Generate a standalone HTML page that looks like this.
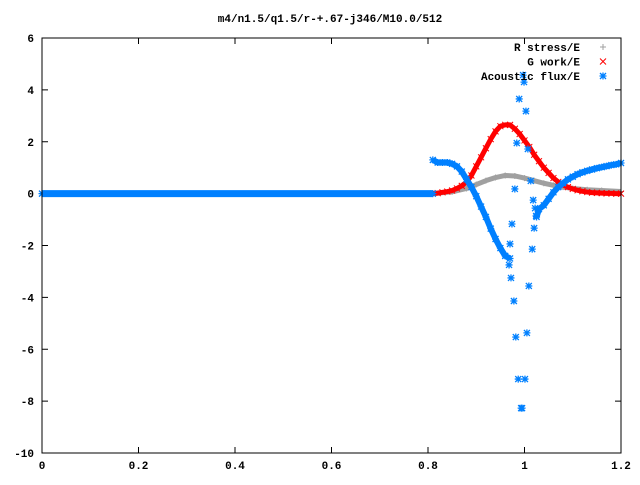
<!DOCTYPE html>
<html><head><meta charset="utf-8"><style>
body{margin:0;background:#fff;width:640px;height:480px;overflow:hidden}
text{font-family:"Liberation Mono",monospace;font-size:11px;font-weight:bold;fill:#000}
</style></head><body>
<svg id="chart" width="640" height="480" viewBox="0 0 640 480" xmlns="http://www.w3.org/2000/svg">
<text x="330" y="22" text-anchor="middle">m4/n1.5/q1.5/r-+.67-j346/M10.0/512</text>
<g id="axes"></g>
<g id="series"></g>
<rect x="42" y="38" width="579" height="415" fill="none" stroke="#000" stroke-width="1"/>
<g id="legend"></g>
</svg>
<script>
const xTicks=[0,0.2,0.4,0.6,0.8,1,1.2];
const xTickLabels=["0","0.2","0.4","0.6","0.8","1","1.2"];
const yTicks=[-10,-8,-6,-4,-2,0,2,4,6];
const yTickLabels=["-10","-8","-6","-4","-2","0","2","4","6"];
const rX=[0.81,0.85,0.88,0.9,0.92,0.94,0.96,0.98,1.0,1.02,1.04,1.06,1.08,1.1,1.13,1.16,1.2];
const rY=[0,0.07,0.2,0.35,0.5,0.62,0.7,0.68,0.6,0.5,0.4,0.32,0.25,0.2,0.15,0.12,0.08];
const gX=[0.81,0.82,0.83,0.84,0.85,0.86,0.87,0.88,0.89,0.9,0.91,0.92,0.93,0.94,0.95,0.96,0.97,0.98,0.99,1.0,1.01,1.02,1.03,1.04,1.05,1.06,1.07,1.08,1.09,1.1,1.11,1.12,1.13,1.14,1.15,1.16,1.17,1.18,1.19,1.2];
const gY=[0,0.02,0.05,0.08,0.12,0.2,0.3,0.45,0.7,1.05,1.4,1.75,2.1,2.4,2.6,2.65,2.65,2.5,2.3,2.05,1.8,1.5,1.25,1.0,0.8,0.6,0.45,0.33,0.25,0.18,0.13,0.09,0.06,0.04,0.03,0.02,0.01,0.01,0,0];
const aZeroX=[0,0.81];
const aZeroY=[0,0];
const aX1=[0.81,0.82,0.83,0.84,0.85,0.86,0.87,0.88,0.89,0.9,0.91,0.92,0.93,0.94,0.95,0.96,0.97];
const aY1=[1.3,1.2,1.2,1.2,1.15,1.05,0.85,0.55,0.25,-0.1,-0.5,-0.9,-1.35,-1.75,-2.1,-2.4,-2.5];
const aX2=[1.025,1.03,1.04,1.05,1.06,1.07,1.08,1.09,1.1,1.11,1.12,1.13,1.14,1.15,1.16,1.17,1.18,1.19,1.2];
const aY2=[-0.9,-0.6,-0.45,-0.2,0.05,0.25,0.4,0.55,0.65,0.75,0.82,0.88,0.93,0.98,1.02,1.06,1.1,1.13,1.18];
const aScX=[0.997,0.999,0.989,1.003,0.984,1.007,1.013,0.980,1.018,1.022,1.024,0.974,1.020,0.970,1.016,0.968,0.972,1.009,0.978,0.982,1.005,0.987,1.001,0.993,0.995];
const aScY=[4.57,4.3,3.65,3.18,1.95,1.72,0.49,0.18,-0.25,-0.56,-0.86,-1.17,-1.33,-1.94,-2.14,-2.75,-3.25,-3.56,-4.14,-5.53,-5.37,-7.15,-7.15,-8.27,-8.27];

const NS="http://www.w3.org/2000/svg";
const X0=42,X1=621,Y0=453,Y1=38;
function sx(v){return X0+(v-0)/(1.2-0)*(X1-X0);}
function sy(v){return Y0-(v+10)/16*(Y0-Y1);}
function mk(tag,attrs,parent){const e=document.createElementNS(NS,tag);for(const k in attrs)e.setAttribute(k,attrs[k]);parent.appendChild(e);return e;}
const axes=document.getElementById('axes'),ser=document.getElementById('series'),leg=document.getElementById('legend');
xTicks.forEach((t,i)=>{const x=sx(t);
 const a=mk('line',{x1:x,x2:x,y1:Y0,y2:Y0-6,stroke:'#000'},axes);
 
 
 const b=mk('line',{x1:x,x2:x,y1:Y1,y2:Y1+6,stroke:'#000'},axes);
 
 
 const l=mk('text',{x:x,y:Y0+16,'text-anchor':'middle'},axes);l.textContent=xTickLabels[i];
 
 });
yTicks.forEach((t,i)=>{const y=sy(t);
 const a=mk('line',{x1:X0,x2:X0+6,y1:y,y2:y,stroke:'#000'},axes);
 
 
 const b=mk('line',{x1:X1,x2:X1-6,y1:y,y2:y,stroke:'#000'},axes);
 
 
 const l=mk('text',{x:X0-8,y:y+4,'text-anchor':'end'},axes);l.textContent=yTickLabels[i];
 
 });
function plus(x,y,c,p){mk('path',{d:`M${x-3} ${y}h6M${x} ${y-3}v6`,stroke:c,'stroke-width':1,fill:'none'},p);}
function cross(x,y,c,p){mk('path',{d:`M${x-3} ${y-3}l6 6M${x-3} ${y+3}l6 -6`,stroke:c,'stroke-width':1,fill:'none'},p);}
function star(x,y,c,p){mk('path',{d:`M${x-3.5} ${y}h7M${x} ${y-3.5}v7M${x-3} ${y-3}l6 6M${x-3} ${y+3}l6 -6`,stroke:c,'stroke-width':1.3,fill:'none'},p);}
function series(xs,ys,c,w,fn,name){const g=mk('g',{},ser);
 
 
 mk('polyline',{points:xs.map((v,i)=>sx(v)+','+sy(ys[i])).join(' '),fill:'none',stroke:c,'stroke-width':w,'stroke-linejoin':'round'},g);
 xs.forEach((v,i)=>fn(sx(v),sy(ys[i]),c,g));}
series(rX,rY,'#a0a0a0',5,plus,'r-stress-series');
series(gX,gY,'#ff0000',5,cross,'g-work-series');
series(aZeroX,aZeroY,'#0080ff',7,star,'acoustic-flux-zero');
series(aX1,aY1,'#0080ff',6,star,'acoustic-flux-left');
series(aX2,aY2,'#0080ff',6,star,'acoustic-flux-right');
const sc=mk('g',{},ser);


aScX.forEach((v,i)=>star(sx(v),sy(aScY[i]),'#0080ff',sc));
const legItems=[["R stress/E",'#a0a0a0',plus],["G work/E",'#ff0000',cross],["Acoustic flux/E",'#0080ff',star]];
legItems.forEach((it,i)=>{const y=47+i*14.5;
 const g=mk('g',{},leg);
 
 
 const t=mk('text',{x:580,y:y+4,'text-anchor':'end'},g);t.textContent=it[0];
 it[2](603,y,it[1],g);});
</script>
</body></html>
